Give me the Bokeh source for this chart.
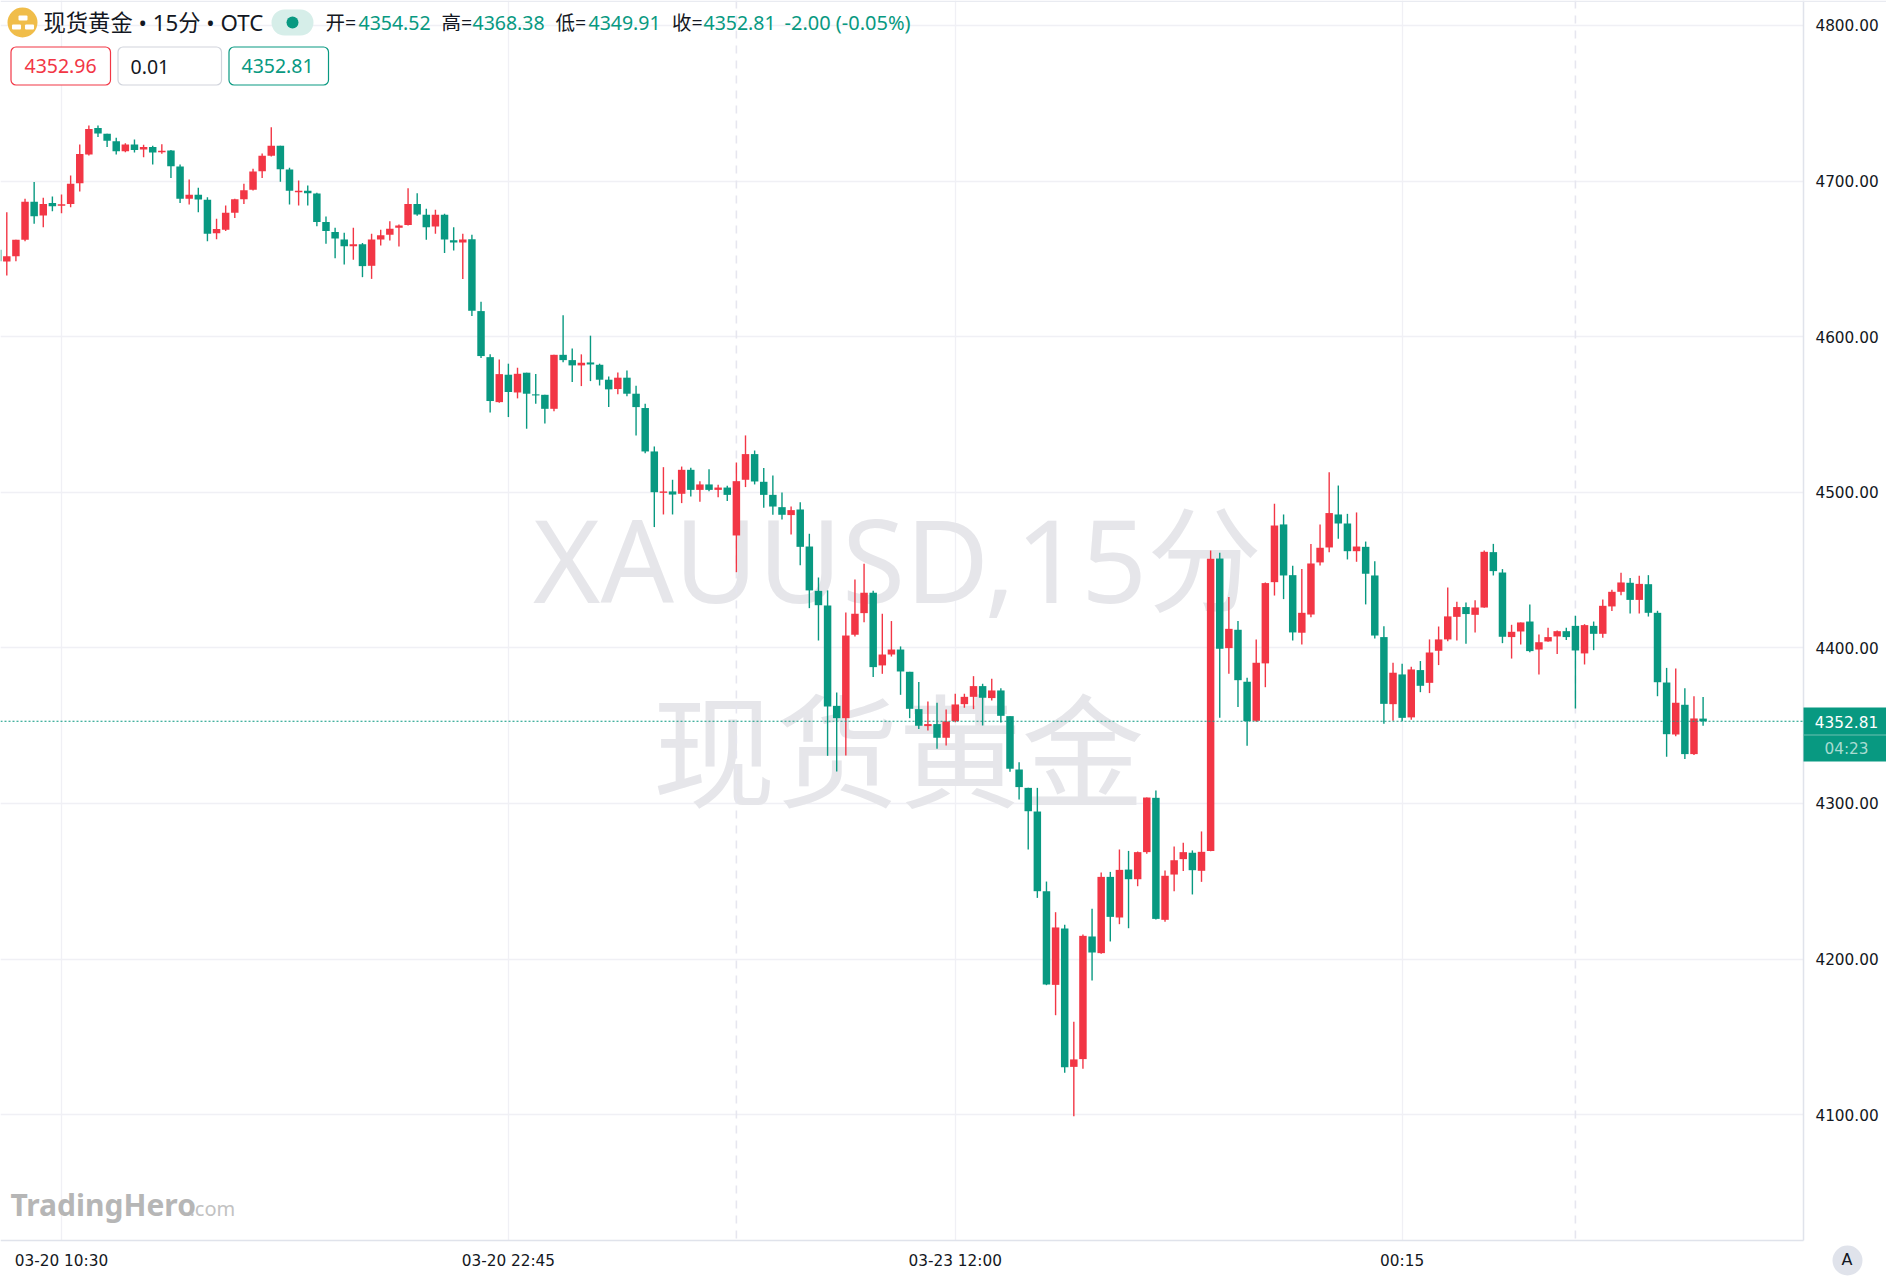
from bokeh.embed import file_html
from bokeh.resources import INLINE
from bokeh.plotting import figure
from bokeh.models import (ColumnDataSource, FixedTicker, NumeralTickFormatter, Span, Label, BoxAnnotation)

first_index = -7
opens = [4655.8,4648.3,4651.7,4662.2,4686.6,4677.8,4685.8,4684.1,4685.3,4698.6,4717.0,4734.0,4730.3,4725.6,4719.2,4723.5,4720.3,4721.8,4718.5,4719.6,4709.3,4688.6,4691.1,4687.9,4666.5,4668.6,4679.6,4688.3,4694.3,4706.3,4716.2,4722.6,4707.4,4692.8,4693.7,4692.0,4673.6,4667.3,4662.4,4658.1,4659.4,4645.5,4662.4,4665.4,4669.9,4671.8,4685.3,4678.3,4670.8,4678.3,4662.0,4660.5,
4662.5,4616.4,4586.8,4557.9,4575.5,4564.1,4576.8,4562.9,4562.6,4553.6,4588.3,4584.9,4581.5,4583.4,4581.9,4572.3,4566.3,4573.6,4563.3,4554.1,
4526.2,4499.6,4500.5,4499.0,4514.4,4501.5,4505.0,4501.5,4503.0,4472.2,4508.0,4524.5,4506.7,4498.3,4490.4,4485.3,4488.9,4465.1,4436.6,4427.2,4362.7,4354.8,4408.4,4422.3,4435.4,4388.7,4395.7,4398.9,4384.6,4360.6,4349.7,4351.0,4342.2,4352.9,4363.8,4368.5,4375.4,4367.7,4372.6,4356.1,
4321.8,4310.0,4294.8,4243.6,4183.4,4219.6,4130.7,4135.7,4214.5,4203.8,4252.8,4226.7,4257.5,4251.3,4268.7,4303.6,4225.2,4254.3,4264.2,4268.3,4256.7,
4269.4,4457.4,4399.8,4411.6,4378.2,4353.1,4390.0,4442.2,4479.3,4446.7,4409.7,4421.4,4454.9,4464.5,4485.7,4479.9,4462.1,4464.9,4446.5,4406.9,4363.8,4382.9,4355.3,4385.7,4377.5,4398.1,4405.4,4419.9,4426.2,4421.2,4425.9,4461.5,4448.4,
4406.9,4410.5,4416.9,4398.9,4404.1,4407.3,4410.7,4414.1,4396.4,4414.1,4409.0,4426.6,4436.0,4441.8,4430.8,4440.9,4422.5,4377.7,4344.3,4363.4,4331.7,4354.52]
highs = [4658.6,4680.0,4662.2,4688.6,4699.3,4689.2,4690.0,4691.3,4703.5,4723.5,4735.7,4735.7,4730.3,4727.8,4724.3,4726.7,4723.3,4722.6,4723.7,4720.0,4710.6,4701.0,4695.6,4689.6,4675.7,4684.3,4688.6,4698.2,4707.8,4717.7,4734.6,4722.6,4708.5,4700.3,4697.1,4692.4,4677.2,4669.9,4666.7,4669.9,4660.1,4666.1,4668.6,4674.2,4672.1,4695.4,4692.2,4682.1,4681.5,4678.9,4670.3,4666.1,
4665.5,4622.4,4588.6,4585.3,4582.6,4580.0,4576.8,4575.9,4562.6,4588.3,4613.8,4592.4,4588.6,4600.6,4582.6,4574.4,4577.0,4578.3,4568.4,4556.9,
4529.4,4516.1,4508.0,4516.5,4515.7,4507.1,4514.8,4504.8,4504.1,4519.1,4536.5,4526.8,4515.5,4510.8,4499.8,4490.8,4493.6,4473.3,4445.2,4436.9,4371.3,4422.7,4443.9,4454.0,4436.6,4421.9,4417.2,4400.9,4384.6,4378.0,4365.5,4364.7,4360.4,4370.5,4370.5,4381.8,4376.9,4380.1,4374.1,4356.1,
4326.5,4310.0,4310.0,4249.8,4230.1,4222.0,4159.7,4215.8,4232.3,4255.6,4256.0,4270.4,4269.5,4269.1,4303.8,4308.3,4256.9,4272.3,4274.7,4269.8,4282.0,
4462.6,4461.1,4432.6,4417.2,4380.7,4405.4,4442.0,4492.6,4485.7,4452.7,4450.6,4466.8,4479.3,4512.9,4504.3,4486.1,4487.0,4468.3,4455.7,4413.9,4390.4,4389.7,4387.8,4391.5,4405.4,4413.7,4438.8,4429.6,4429.2,4430.6,4462.6,4466.8,4450.6,
4414.8,4416.3,4427.8,4408.6,4412.9,4411.1,4412.9,4420.6,4415.2,4416.9,4431.1,4437.3,4448.2,4444.8,4446.3,4446.7,4423.8,4387.1,4386.7,4374.1,4368.9,4368.38]
lows = [4645.7,4639.3,4648.5,4661.3,4672.5,4670.3,4680.6,4679.3,4683.2,4693.3,4716.4,4728.2,4721.8,4717.0,4718.5,4718.3,4715.3,4710.6,4717.5,4702.0,4685.8,4684.9,4680.0,4661.3,4662.6,4667.8,4676.3,4685.3,4693.9,4702.0,4715.8,4699.5,4684.9,4684.3,4684.3,4671.0,4659.6,4650.4,4646.4,4649.4,4638.2,4637.1,4658.6,4661.8,4657.9,4671.4,4677.6,4662.2,4666.1,4653.8,4655.3,4637.1,
4613.2,4586.2,4551.3,4557.5,4548.3,4560.3,4540.8,4556.9,4544.2,4552.1,4583.6,4570.8,4568.2,4571.4,4568.6,4554.7,4562.9,4561.6,4536.5,4525.1,
4477.6,4485.7,4485.7,4493.0,4497.3,4493.8,4500.7,4496.8,4494.3,4448.6,4503.3,4505.0,4490.0,4485.5,4482.5,4472.8,4453.1,4425.5,4404.7,4330.6,4320.5,4330.8,4407.3,4416.5,4381.2,4383.3,4394.4,4369.8,4354.8,4347.8,4346.9,4335.1,4337.3,4352.2,4361.5,4360.6,4350.1,4366.2,4352.0,4320.3,
4302.5,4270.4,4239.3,4183.2,4163.9,4126.9,4099.0,4129.5,4186.2,4203.4,4211.3,4222.4,4219.8,4246.8,4267.6,4225.4,4223.9,4243.6,4256.5,4241.5,4249.6,
4269.2,4355.0,4383.3,4361.9,4337.0,4352.5,4374.7,4433.6,4431.3,4404.7,4402.2,4419.7,4452.9,4461.5,4470.1,4456.8,4455.3,4427.9,4406.0,4351.2,4353.1,4352.9,4353.8,4371.5,4370.9,4388.9,4404.3,4404.7,4402.6,4409.9,4425.7,4446.5,4403.0,
4393.1,4402.1,4397.2,4382.9,4403.9,4396.1,4405.1,4361.0,4389.3,4398.5,4406.4,4423.6,4433.8,4422.1,4422.1,4420.1,4368.9,4330.0,4343.2,4328.5,4331.2,4349.91]
closes = [4648.5,4651.7,4662.2,4686.6,4677.4,4685.3,4683.8,4685.1,4698.2,4717.3,4733.5,4730.5,4725.8,4719.2,4723.5,4720.0,4721.8,4718.3,4719.4,4709.5,4688.6,4691.1,4688.1,4666.1,4669.1,4679.6,4688.3,4694.1,4706.1,4716.2,4722.6,4707.6,4693.7,4693.7,4692.2,4673.6,4667.8,4663.1,4658.1,4659.4,4645.3,4662.4,4665.2,4669.3,4671.4,4685.3,4678.5,4670.3,4678.3,4662.4,4660.5,4662.4,
4616.6,4587.5,4558.6,4575.9,4564.4,4576.1,4563.3,4562.2,4553.6,4588.3,4584.9,4581.5,4583.2,4582.1,4572.3,4566.1,4573.6,4563.3,4554.7,4526.2,
4500.0,4500.5,4498.5,4514.4,4501.5,4505.0,4501.5,4503.0,4498.3,4507.1,4524.5,4506.9,4498.3,4490.8,4485.5,4488.5,4464.9,4436.9,4427.4,4362.3,4354.8,4407.9,4421.9,4435.4,4387.6,4395.7,4398.9,4384.8,4360.8,4349.9,4351.0,4342.2,4352.7,4363.6,4368.5,4375.4,4367.9,4372.6,4356.3,4322.3,
4310.5,4295.0,4243.6,4183.6,4220.3,4130.5,4135.5,4214.9,4204.2,4252.8,4227.1,4257.3,4251.3,4268.7,4303.8,4225.8,4253.5,4263.5,4268.7,4257.1,4268.9,
4457.2,4399.4,4412.2,4379.2,4352.9,4390.4,4441.6,4478.6,4446.5,4409.9,4422.5,4454.2,4464.3,4486.6,4479.9,4462.1,4465.1,4447.6,4407.9,4364.0,4384.0,4355.0,4386.1,4375.6,4397.0,4405.4,4420.2,4426.2,4421.7,4425.9,4461.7,4449.3,4407.1,
4410.3,4416.3,4397.9,4403.6,4406.9,4410.7,4406.9,4398.3,4414.6,4409.0,4427.0,4436.0,4442.0,4430.8,4441.1,4422.5,4377.9,4344.5,4364.7,4331.7,4354.6,4352.81]

x_ticks = [0, 49, 98, 147]
x_labels = ["03-20 10:30", "03-20 22:45", "03-23 12:00", "00:15"]
session_breaks = [74, 166]
y_ticks = [4100, 4200, 4300, 4400, 4500, 4600, 4700, 4800]
last_price = 4352.81

UP, DOWN = "#f23645", "#089981"
LATIN = "Noto Sans, Noto Sans CJK SC, sans-serif"

n = len(opens)
x = [first_index + i for i in range(n)]
colors = [UP if closes[i] >= opens[i] else DOWN for i in range(n)]
src = ColumnDataSource(dict(x=x, high=highs, low=lows,
                            top=[max(opens[i], closes[i]) for i in range(n)],
                            bottom=[min(opens[i], closes[i]) for i in range(n)],
                            color=colors))

# The frame fills the whole page; the axes sit inside it at fixed data positions.
W, H = 1886, 1278
X0, X_AXIS, X1 = -6.69, 191.0, 200.11
Y0, Y_AXIS, Y1 = 3994.7, 4019.1, 4816.0
p = figure(width=W, height=H, x_range=(X0, X1), y_range=(Y0, Y1),
           y_axis_location="right", output_backend="svg", toolbar_location=None,
           min_border=0, outline_line_color=None, background_fill_color="white")

def sy(py): return H - py

def box(l, t, r, b, fill=None, line=None, radius=0, lw=1.2, level="annotation"):
    ba = BoxAnnotation(left=l, right=r, top=sy(t), bottom=sy(b),
                       left_units="screen", right_units="screen", top_units="screen", bottom_units="screen",
                       fill_color=fill, fill_alpha=1 if fill else 0, line_color=line,
                       line_width=lw, line_alpha=1 if line else 0, border_radius=radius, level=level)
    p.add_layout(ba)

def text(s, px, py, color="#131722", size=19.5, align="left", font=LATIN, style="normal", level="annotation"):
    p.add_layout(Label(x=px, y=sy(py), x_units="screen", y_units="screen", text=s,
                       text_color=color, text_font_size=f"{size}px", text_font=font, text_align=align,
                       text_baseline="middle", text_font_style=style, level=level))

# watermark
text("XAUUSD,15分", 897, 558, "#e6e6ea", 115, "center", level="underlay")
text("现货黄金", 898, 743, "#e6e6ea", 123, "center", font="Noto Sans CJK SC", level="underlay")

for ax in p.xaxis:
    ax.ticker = FixedTicker(ticks=x_ticks)
    ax.major_label_overrides = dict(zip(x_ticks, x_labels))
    ax.fixed_location = Y_AXIS
    ax.bounds = (X0, X_AXIS)
for ax in p.yaxis:
    ax.ticker = FixedTicker(ticks=y_ticks)
    ax.formatter = NumeralTickFormatter(format="0.00")
    ax.fixed_location = X_AXIS
    ax.bounds = (Y_AXIS, Y1)
for ax in list(p.xaxis) + list(p.yaxis):
    ax.major_tick_line_color = None
    ax.minor_tick_line_color = None
    ax.axis_line_color = "#e0e3eb"
    ax.axis_line_width = 1.5
    ax.major_label_text_color = "#131722"
    ax.major_label_text_font = "DejaVu Sans"
    ax.major_label_text_font_size = "15.3px"
    ax.major_tick_in = 0
    ax.major_tick_out = 0
p.xaxis.major_label_standoff = 11
p.yaxis.major_label_standoff = 12
p.xgrid.grid_line_color = "#f0f0f5"
p.ygrid.grid_line_color = "#f0f0f5"
p.xgrid.grid_line_width = 1.3
p.ygrid.grid_line_width = 1.3

for k in session_breaks:
    p.add_layout(Span(location=k, dimension="height", line_color="#e6e6ef", line_width=1.6,
                      line_dash="8 7", level="underlay"))

# white covers keep the grid out of the price and time scales
box(1803, 0, 1886, 1278, fill="white", level="underlay")
box(0, 1240, 1886, 1278, fill="white", level="underlay")

p.segment("x", "low", "x", "high", source=src, color="color", line_width=1.4)
p.vbar(x="x", top="top", bottom="bottom", width=0.82, source=src, fill_color="color", line_color=None)

p.add_layout(Span(location=last_price, dimension="width", line_color=DOWN, line_width=1.2, line_dash="2 2"))

# header
box(0, 0, 1886, 1.5, fill="#e9ebf1")
box(7, 7, 37, 37, fill="#f0bd4a", radius=15)
box(18, 15, 27, 20, fill="white", radius=1)
box(11.5, 24, 20.5, 29, fill="white", radius=1)
box(24.5, 24, 33.5, 29, fill="white", radius=1)
text("现货黄金 • 15分 • OTC", 43, 22, size=22.3)
box(271, 9, 313, 35, fill="#d6eee9", radius=13)
box(286, 16, 298, 28, fill=DOWN, radius=6)
for s, px, c, fs in [("开=", 325, "#131722", 19.5), ("4354.52", 358, DOWN, 19.5), ("高=", 441, "#131722", 19.5),
                     ("4368.38", 472, DOWN, 19.5), ("低=", 555, "#131722", 19.5), ("4349.91", 588, DOWN, 19.5),
                     ("收=", 671.5, "#131722", 19.5), ("4352.81", 703, DOWN, 19.5), ("-2.00 (-0.05%)", 784, DOWN, 20)]:
    text(s, px, 22, c, fs)

box(10.5, 46.5, 110, 84.5, fill="white", line=UP, radius=5)
box(117.5, 46.5, 221, 84.5, fill="white", line="#d1d4dc", radius=5)
box(228.5, 46.5, 328, 84.5, fill="white", line=DOWN, radius=5)
text("4352.96", 24, 65.5, UP)
text("0.01", 130, 66, "#131722")
text("4352.81", 241, 65.5, DOWN)

# branding
text("TradingHero", 10, 1204, "#b6b6b6", 30, style="bold")
text(".com", 189, 1208, "#c2c2c2", 20)

# price tag
box(1803, 707, 1886, 761, fill=DOWN)
box(1803, 734, 1886, 735, fill="#6fc2b1")
text("4352.81", 1846, 721, "white", 15.3, "center", font="DejaVu Sans")
text("04:23", 1846, 748, "#a9dcd2", 15.3, "center", font="DejaVu Sans")

# auto-scale button
box(1832, 1245, 1862, 1275, fill="#e0e3eb", radius=15)
text("A", 1846.5, 1259, "#131722", 16, "center", font="DejaVu Sans")

open("out.html", "w").write(file_html(p, INLINE))
